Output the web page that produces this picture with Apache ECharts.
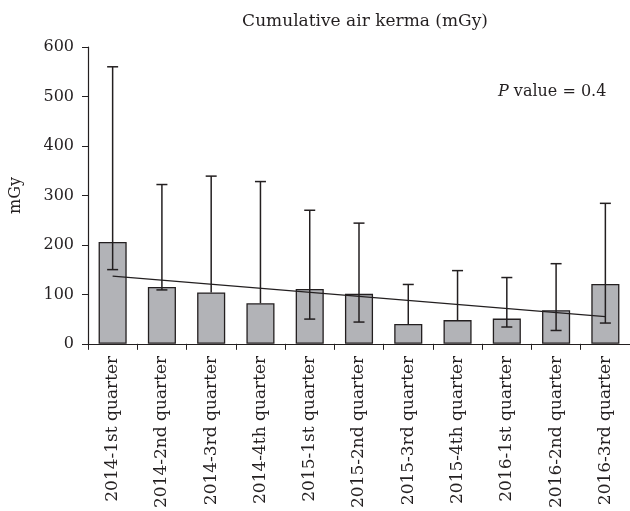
<!DOCTYPE html>
<html>
<head>
<meta charset="utf-8">
<script src="https://cdn.jsdelivr.net/npm/echarts@6/dist/echarts.min.js"></script>
<style>html,body{margin:0;padding:0;background:#fff;}#c{width:630px;height:511px;}</style>
</head>
<body>
<div id="c"></div>
<script>
const categories = ['2014-1st quarter','2014-2nd quarter','2014-3rd quarter','2014-4th quarter','2015-1st quarter','2015-2nd quarter','2015-3rd quarter','2015-4th quarter','2016-1st quarter','2016-2nd quarter','2016-3rd quarter'];
const means = [206, 115, 104, 82, 111, 101, 40, 48, 51, 68, 121];
const upperErr = [560, 322, 339, 328, 270, 244, 120, 148, 134, 162, 284];
const lowerErr = [150, 109, null, null, 50, 44, null, null, 34, 27, 42];
const trend = [137, null, null, null, null, null, null, null, null, null, 55];
const yTicks = [0, 100, 200, 300, 400, 500, 600];

const FONT = 'DejaVu Serif';
const INK = '#231f20';

const errData = categories.map((c, i) => [i, lowerErr[i] == null ? means[i] : lowerErr[i], upperErr[i], lowerErr[i] == null ? 0 : 1]);

const chart = echarts.init(document.getElementById('c'), null, {renderer: 'canvas'});
chart.setOption({
  animation: false,
  backgroundColor: '#fff',
  title: [
    {text: 'Cumulative air kerma (mGy)', left: 360, top: 8, textAlign: 'center',
     textStyle: {fontFamily: FONT, fontSize: 17, fontWeight: 'normal', color: INK}},
    {text: '{i|P} value = 0.4', left: 493, top: 79,
     textStyle: {fontFamily: FONT, fontSize: 16, fontWeight: 'normal', color: INK,
       rich: {i: {fontFamily: FONT, fontSize: 16, fontStyle: 'italic', color: INK}}}}
  ],
  grid: {left: 86, right: 0, top: 47, bottom: 167, containLabel: false},
  xAxis: {
    type: 'category', data: categories, boundaryGap: true,
    axisLine: {lineStyle: {color: INK, width: 1.2}},
    axisTick: {show: true, alignWithLabel: false, length: 6, inside: false, lineStyle: {color: INK}},
    axisLabel: {rotate: 90, margin: 12, fontFamily: FONT, fontSize: 17, color: INK, interval: 0}
  },
  yAxis: {
    type: 'value', min: yTicks[0], max: yTicks[yTicks.length - 1], interval: 100,
    name: 'mGy', nameLocation: 'middle', nameRotate: 90, nameGap: 64,
    nameTextStyle: {fontFamily: FONT, fontSize: 16, color: INK},
    splitLine: {show: false},
    axisLine: {show: true, lineStyle: {color: INK, width: 1.2}},
    axisTick: {show: true, length: 6, lineStyle: {color: INK}},
    axisLabel: {fontFamily: FONT, fontSize: 16, color: INK, margin: 14}
  },
  series: [
    {type: 'bar', data: means, barWidth: '57%',
     itemStyle: {color: '#b2b3b7', borderColor: INK, borderWidth: 1.3}, z: 2},
    {type: 'custom', data: errData, z: 3,
     encode: {x: 0, y: [1, 2]},
     renderItem: function (params, api) {
       const x = api.value(0);
       const lo = api.coord([x, api.value(1)]);
       const hi = api.coord([x, api.value(2)]);
       const hw = 5.5;
       const style = {stroke: INK, lineWidth: 1.5, fill: null};
       const children = [
         {type: 'line', shape: {x1: hi[0], y1: hi[1], x2: lo[0], y2: lo[1]}, style: style},
         {type: 'line', shape: {x1: hi[0] - hw, y1: hi[1], x2: hi[0] + hw, y2: hi[1]}, style: style}
       ];
       if (api.value(3)) {
         children.push({type: 'line', shape: {x1: lo[0] - hw, y1: lo[1], x2: lo[0] + hw, y2: lo[1]}, style: style});
       }
       return {type: 'group', children: children};
     }},
    {type: 'line', data: trend, connectNulls: true, symbol: 'none', z: 4,
     lineStyle: {color: INK, width: 1.2}}
  ]
});
</script>
</body>
</html>
